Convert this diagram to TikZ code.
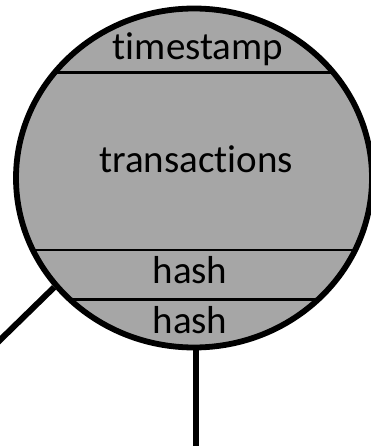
\documentclass[tikz,border=0pt]{standalone}
\usepackage{fontspec}
\setmainfont{Carlito}[Ligatures=NoCommon]
\usetikzlibrary{shapes.geometric}
\definecolor{blockgray}{HTML}{A6A6A6}
\begin{document}
\begin{tikzpicture}[x=1pt,y=-1pt,
  blockshape/.style={ellipse, draw=black, fill=blockgray, line width=5.8pt,
    minimum width=356pt, minimum height=339pt, inner sep=0pt},
  divider/.style={line width=2.5pt, draw=black},
  conn/.style={line width=6pt, draw=black},
  lbl/.style={anchor=base, inner sep=0pt, font=\fontsize{39}{47}\selectfont, text=black}]
\useasboundingbox (0,0) rectangle (371,446);
\node[blockshape] (block) at (194,178) {};
\begin{scope}
  \clip (194,178) ellipse (176pt and 167pt);
  \draw[divider] (0,72.7) -- (371,72.7);
  \draw[divider] (0,250) -- (371,250);
  \draw[divider] (0,299.3) -- (371,299.3);
\end{scope}
\node[lbl] (ts) at (198,60) {timestamp};
\node[lbl] (tx) at (196,173) {transactions};
\node[lbl] (h1) at (190,283) {hash};
\node[lbl] (h2) at (190,333) {hash};
\coordinate (leftend) at (-3,343);
\coordinate (bottomend) at (196,450);
\draw[conn] (block.218) -- (leftend);
\draw[conn] (block.south -| bottomend) -- (bottomend);
\end{tikzpicture}
\end{document}
